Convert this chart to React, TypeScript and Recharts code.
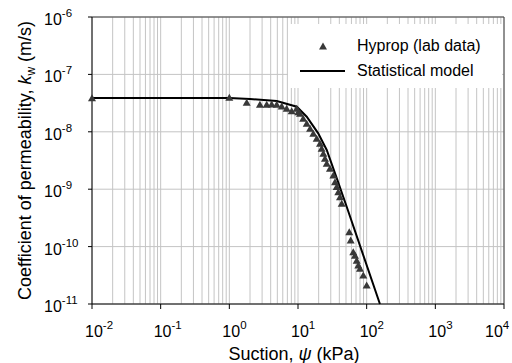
import React from 'react';
import {
    ScatterChart,
    Scatter,
    XAxis,
    YAxis,
    CartesianGrid,
    ReferenceLine,
    Legend,
    Label
} from 'recharts';

// Suction (kPa) vs coefficient of permeability (m/s)
const labSuction = [0.01, 1.0, 1.79, 2.79, 3.5, 4.14, 4.9, 5.79, 6.84, 8.09, 9.57, 10.1, 10.7, 11.9, 13.4, 15.0, 16.7, 18.7, 20.9, 22.1, 23.4, 24.7, 26.2, 29.2, 32.7, 34.6, 36.6, 38.6, 40.9, 43.3, 55.8, 58.5, 63.8, 67.6, 71.6, 75.5, 79.9, 89.3, 100];
const labK = [3.93e-8, 4.0e-8, 3.27e-8, 3.01e-8, 3.01e-8, 3.05e-8, 3.01e-8, 2.81e-8, 2.56e-8, 2.33e-8, 2.56e-8, 2.24e-8, 2.1e-8, 1.72e-8, 1.41e-8, 1.15e-8, 9.4e-9, 7.7e-9, 6.3e-9, 5.16e-9, 4.22e-9, 3.45e-9, 2.82e-9, 2.31e-9, 1.77e-9, 1.35e-9, 1.11e-9, 9.0e-10, 7.4e-10, 5.7e-10, 1.82e-10, 1.3e-10, 8.1e-11, 7.1e-11, 5.8e-11, 4.8e-11, 4.2e-11, 3.2e-11, 2.14e-11];

const modelSuction = [0.01, 1, 2.0, 4.9, 9.6, 13.4, 19.7, 26.2, 37.4, 51.2, 156];
const modelK = [3.88e-8, 3.88e-8, 3.72e-8, 3.44e-8, 2.73e-8, 1.83e-8, 9.4e-9, 4.82e-9, 1.45e-9, 4.95e-10, 1e-11];

const xDecades = [0.01, 0.1, 1, 10, 100, 1000, 10000];
const xMinorSteps = [2, 3, 4, 5, 6, 7, 8, 9];
const yDecades = [1e-11, 1e-10, 1e-9, 1e-8, 1e-7, 1e-6];

const labData = labSuction.map((x, i) => ({ x, y: labK[i] }));
const modelData = modelSuction.map((x, i) => ({ x, y: modelK[i] }));

// every vertical grid line: decades plus 2..9 within each decade
const xGridTicks: number[] = [];
xDecades.forEach((d, i) => {
    xGridTicks.push(d);
    if (i < xDecades.length - 1) xMinorSteps.forEach((m) => xGridTicks.push(+(d * m).toPrecision(3)));
});

const FONT = '"Liberation Sans", Arial, sans-serif';
const POINT_COLOR = '#383838';

const exponentOf = (v: number) => Math.round(Math.log10(v));
const isDecade = (v: number) => Math.abs(v / Math.pow(10, exponentOf(v)) - 1) < 1e-6;

const XTick = (props: any) => {
    const { x, y, payload } = props;
    if (!isDecade(payload.value)) return null;
    const last = payload.value >= 10000;
    return (
        <g>
            <line x1={x} x2={x} y1={y} y2={y + 5} stroke="#000" />
            <text x={x - (last ? 19 : 7)} y={y + 33} fontSize={16} fontFamily={FONT} fill="#000">
                10<tspan dy={-8} fontSize={11.5}>{exponentOf(payload.value)}</tspan>
            </text>
        </g>
    );
};

const YTick = (props: any) => {
    const { x, y, payload } = props;
    return (
        <g>
            <line x1={x - 4} x2={x} y1={y} y2={y} stroke="#000" />
            <text x={x - 48} y={y + 8} fontSize={16} fontFamily={FONT} fill="#000">
                10<tspan dy={-8} fontSize={11.5}>{exponentOf(payload.value)}</tspan>
            </text>
        </g>
    );
};

const Triangle = (props: any) => {
    const { cx, cy } = props;
    if (cx == null || cy == null) return <g />;
    return <polygon points={`${cx - 4},${cy + 3.5} ${cx + 4},${cy + 3.5} ${cx},${cy - 3.5}`} fill={POINT_COLOR} />;
};

const LegendBox = () => (
    <div style={{ width: 214, height: 64, background: '#fff', fontFamily: FONT, fontSize: 16, color: '#000', position: 'relative' }}>
        <svg width={60} height={64} style={{ position: 'absolute', left: 0, top: 0 }}>
            <polygon points="31,25.5 39,25.5 35,18.5" fill={POINT_COLOR} />
            <line x1={12} x2={57} y1={47} y2={47} stroke="#000" strokeWidth={2} />
        </svg>
        <div style={{ position: 'absolute', left: 69, top: 12, lineHeight: '20px' }}>Hyprop (lab data)</div>
        <div style={{ position: 'absolute', left: 69, top: 37, lineHeight: '20px' }}>Statistical model</div>
    </div>
);

export default function App() {
    return (
        <div style={{ position: 'absolute', left: 0, top: 0, width: 512, height: 363, background: '#fff' }}>
            <ScatterChart width={512} height={363} margin={{ top: 17, right: 8, bottom: 0, left: 0 }}>
                <CartesianGrid stroke="#c4c4c4" strokeWidth={1} />
                <XAxis
                    type="number"
                    dataKey="x"
                    scale="log"
                    domain={[0.01, 10000]}
                    ticks={xGridTicks}
                    interval={0}
                    height={59}
                    tickLine={false}
                    tickSize={0}
                    tickMargin={0}
                    tick={<XTick />}
                    stroke="#000"
                >
                    <Label
                        content={(p: any) => {
                            const vb = p.viewBox;
                            return (
                                <text x={vb.x + vb.width / 2 - 4} y={vb.y + 56} textAnchor="middle" fontSize={18} fontFamily={FONT} fill="#000">
                                    Suction, <tspan fontStyle="italic">ψ</tspan> (kPa)
                                </text>
                            );
                        }}
                    />
                </XAxis>
                <YAxis
                    type="number"
                    dataKey="y"
                    scale="log"
                    domain={[1e-11, 1e-6]}
                    ticks={yDecades}
                    interval={0}
                    width={92}
                    tickLine={false}
                    tickSize={0}
                    tickMargin={0}
                    tick={<YTick />}
                    stroke="#000"
                >
                    <Label
                        content={(p: any) => {
                            const vb = p.viewBox;
                            const cy = vb.y + vb.height / 2;
                            return (
                                <text x={31} y={cy} transform={`rotate(-90 31 ${cy})`} textAnchor="middle" fontSize={18} fontFamily={FONT} fill="#000">
                                    Coefficient of permeability, <tspan fontStyle="italic">k</tspan>
                                    <tspan fontSize={12} dy={4}>w</tspan>
                                    <tspan dy={-4}> (m/s)</tspan>
                                </text>
                            );
                        }}
                    />
                </YAxis>
                <ReferenceLine y={1e-6} stroke="#404040" ifOverflow="extendDomain" />
                <ReferenceLine x={10000} stroke="#404040" ifOverflow="extendDomain" />
                <Legend
                    layout="vertical"
                    align="center"
                    verticalAlign="middle"
                    wrapperStyle={{ left: 288, top: 24, width: 214, height: 64 }}
                    content={<LegendBox />}
                />
                <Scatter
                    name="Statistical model"
                    data={modelData}
                    line={{ stroke: '#000', strokeWidth: 2 }}
                    lineType="joint"
                    shape={() => <g />}
                    isAnimationActive={false}
                />
                <Scatter
                    name="Hyprop (lab data)"
                    data={labData}
                    shape={<Triangle />}
                    isAnimationActive={false}
                />
            </ScatterChart>
        </div>
    );
}
